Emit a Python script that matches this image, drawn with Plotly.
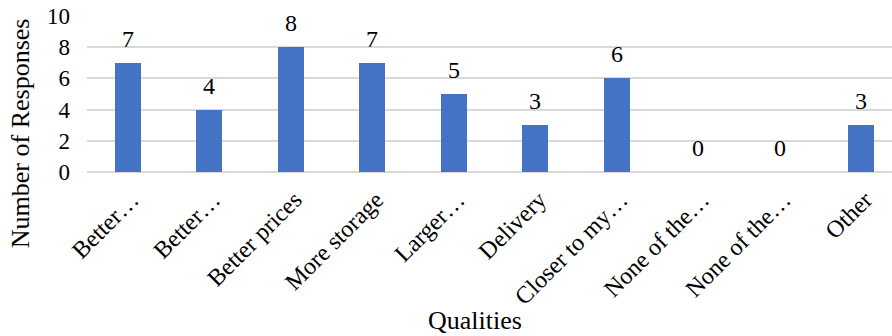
import plotly.graph_objects as go

categories = ["Better…", "Better…", "Better prices", "More storage", "Larger…",
              "Delivery", "Closer to my…", "None of the…", "None of the…", "Other"]
responses = [7, 4, 8, 7, 5, 3, 6, 0, 0, 3]
y_ticks = [0, 2, 4, 6, 8, 10]

FONT = "Liberation Serif"
positions = list(range(len(categories)))

fig = go.Figure()
fig.add_trace(go.Bar(
    x=positions, y=responses, width=0.32,
    marker=dict(color="#4472C4", line=dict(width=0)),
    hoverinfo="skip",
))

for xi, v in zip(positions, responses):
    fig.add_annotation(x=xi, y=v, text=str(v), showarrow=False,
                       yanchor="bottom", yshift=9,
                       font=dict(family=FONT, size=24, color="#000000"))

fig.add_annotation(xref="paper", yref="paper", x=-0.083, y=0.25,
                   text="Number of Responses", textangle=-90, showarrow=False,
                   xanchor="center", yanchor="middle",
                   font=dict(family=FONT, size=26, color="#000000"))
fig.add_annotation(xref="paper", yref="paper", x=0.4825, y=-0.95,
                   text="Qualities", showarrow=False,
                   xanchor="center", yanchor="middle",
                   font=dict(family=FONT, size=26, color="#000000"))

fig.update_layout(
    width=892, height=336,
    margin=dict(l=87, r=0, t=16, b=164, autoexpand=False),
    plot_bgcolor="white", paper_bgcolor="white",
    showlegend=False,
    bargap=0,
)
fig.update_xaxes(
    range=[-0.5, 9.377], automargin=False,
    tickmode="array", tickvals=positions, ticktext=categories,
    tickangle=-45, showgrid=False, zeroline=False, showline=False,
    ticks="", ticklabelstandoff=8, ticklabelshift=4,
    tickfont=dict(family=FONT, size=24, color="#000000"),
    fixedrange=True,
)
fig.update_yaxes(
    range=[0, 10], tickmode="array", tickvals=y_ticks, automargin=False,
    showgrid=True, gridcolor="#D9D9D9", gridwidth=2,
    zeroline=True, zerolinecolor="#D9D9D9", zerolinewidth=2,
    showline=False, ticks="", ticklabelstandoff=16,
    tickfont=dict(family=FONT, size=23, color="#000000"),
    fixedrange=True,
)

fig.write_html("out.html", config={"displayModeBar": False},
               post_script="document.body.style.margin='0';document.body.style.overflow='hidden';")
